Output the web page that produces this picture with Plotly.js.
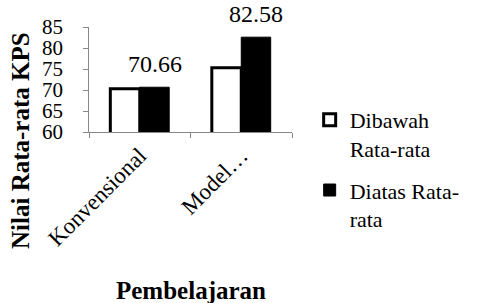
<!DOCTYPE html>
<html><head><meta charset="utf-8">
<script src="https://cdn.plot.ly/plotly-3.0.1.min.js"></script>
<style>body{margin:0;background:#fff}#c{width:477px;height:303px}
.xtick text,.ytick text,.legendtext,.annotation-text{font-family:"Liberation Serif",serif !important}
</style>
</head><body><div id="c"></div>
<script>
var categories = ["Konvensional", "Model…"];
var dibawah = [70.3, 75.3];
var diatas = [70.66, 82.58];
var diatasLabels = ["70.66", "82.58"];
var seriesNames = ["Dibawah<br>Rata-rata", "Diatas Rata-<br>rata"];
var yTitle = "Nilai Rata-rata KPS";
var xTitle = "Pembelajaran";

var font = "Liberation Serif, serif";
var data = [
  {type: "bar", x: categories, y: dibawah, name: seriesNames[0], legendgroup: "a",
   marker: {color: "#ffffff", line: {color: "#000", width: 3}}},
  {type: "bar", x: categories, y: diatas, name: seriesNames[1], legendgroup: "b",
   marker: {color: "#000000", line: {color: "#000", width: 1}}}
];
var annotations = [
  {text: "<b>" + yTitle + "</b>", xref: "paper", yref: "paper", x: -0.335, y: -0.076,
   xanchor: "center", yanchor: "middle",
   textangle: -90, showarrow: false, font: {family: font, size: 25, color: "#000"}},
  {text: "<b>" + xTitle + "</b>", xref: "paper", yref: "paper", x: 0.5, y: -1.505,
   xanchor: "center", yanchor: "middle",
   showarrow: false, font: {family: font, size: 25, color: "#000"}}
];
categories.forEach(function (c, i) {
  annotations.push({text: diatasLabels[i], x: c, y: diatas[i], xref: "x", yref: "y",
    xshift: 15, yshift: 8, yanchor: "bottom", showarrow: false,
    font: {family: font, size: 24, color: "#000"}});
});
var layout = {
  width: 477, height: 303,
  margin: {l: 89, r: 182, t: 27, b: 171},
  paper_bgcolor: "#fff", plot_bgcolor: "#fff",
  font: {family: font, size: 22, color: "#000"},
  barmode: "group", bargap: 0.42, bargroupgap: 0,
  xaxis: {showline: true, linecolor: "#888", linewidth: 1, ticks: "outside", tickson: "boundaries",
          ticklen: 5, tickcolor: "#888", tickangle: -45, showgrid: false,
          tickfont: {family: font, size: 23, color: "#000"}},
  yaxis: {range: [60, 85], dtick: 5, showline: true, linecolor: "#888", ticks: "outside", ticklen: 5,
          tickcolor: "#888", showgrid: false, zeroline: false, ticksuffix: "\u00a0\u00a0\u00a0",
          tickfont: {family: font, size: 21, color: "#000"}},
  legend: {x: 1.087, y: 0.314, xanchor: "left", yanchor: "top", valign: "top", maxheight: 300,
           font: {family: font, size: 22, color: "#000"}, tracegroupgap: 10},
  annotations: annotations,
  showlegend: true
};
Plotly.newPlot("c", data, layout, {staticPlot: true});
</script></body></html>
